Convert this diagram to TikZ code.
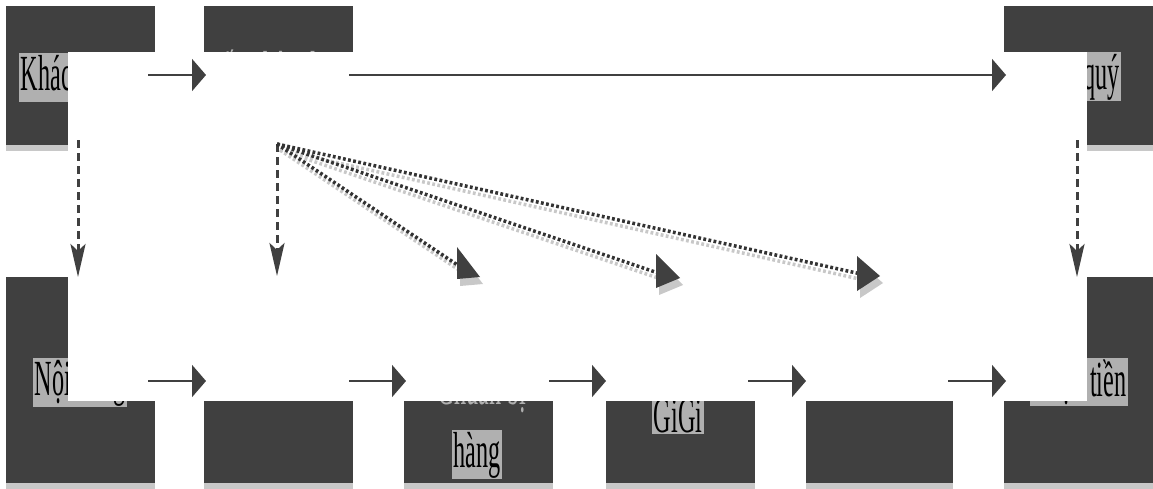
\documentclass[tikz,border=0pt]{standalone}
\usepackage{fontspec}
\setmainfont{Liberation Serif}
\usetikzlibrary{arrows.meta,calc}
\definecolor{boxc}{HTML}{404040}
\definecolor{shadc}{HTML}{C8C8C8}
\definecolor{haloc}{HTML}{B0B0B0}
\definecolor{dotc}{HTML}{333333}
\newcommand{\stretchtxt}[1]{\scalebox{1.1}[2.3]{\fontsize{22}{27}\selectfont #1}}
\begin{document}
\begin{tikzpicture}[x=1pt,y=-1pt,
  stepbox/.style={fill=boxc, draw=none, anchor=north west, inner sep=0pt, minimum width=149pt},
  toprow/.style={stepbox, minimum height=139pt},
  botrow/.style={stepbox, minimum height=206pt},
  txt/.style={fill=haloc, text=black, inner sep=1.5pt},
  bare/.style={text=haloc, inner sep=1.5pt},
  flow/.style={draw=boxc, line width=2pt, -{Triangle[length=14pt,width=32pt]}},
  drop/.style={draw=boxc, line width=3pt, dash pattern=on 8pt off 5pt, -{Stealth[length=33pt,width=15pt,inset=7pt]}},
  dotline/.style={draw=dotc, line width=3.5pt, dash pattern=on 2.8pt off 2.4pt},
  dotshadow/.style={draw=shadc, line width=3.5pt, dash pattern=on 2.8pt off 2.4pt}]
\useasboundingbox (0,0) rectangle (1153,488);
\fill[white] (0,0) rectangle (1153,488);
% boxes
\node[toprow] (t1) at (6,6) {};
\node[toprow] (t2) at (204,6) {};
\node[toprow] (t3) at (1004,6) {};
\node[botrow] (b1) at (6,277) {};
\node[botrow] (b2) at (204,277) {};
\node[botrow] (b3) at (404,277) {};
\node[botrow] (b4) at (606,277) {};
\node[botrow, minimum width=147pt] (b5) at (806,277) {};
\node[botrow] (b6) at (1004,277) {};
% shadows
\foreach \n in {t1,t2,t3,b1,b2,b3,b4,b5,b6}
  \fill[shadc] (\n.south west) rectangle ($(\n.south east)+(0,6)$);
% texts
\node[txt, anchor=base west] (k1) at (19,90) {\stretchtxt{Khách hàng}};
\node[bare, anchor=base] (k2) at (272,86) {\stretchtxt{\begin{tabular}[t]{@{}c@{}}Tiếp nhận đơn\\hàng\end{tabular}}};
\node[txt, anchor=base east] (k3) at (1121,89) {\stretchtxt{Hàng quý}};
\node[txt, anchor=base west] (k4) at (33,395) {\stretchtxt{Nội dung}};
\node[bare, anchor=base] (k5a) at (482,404) {\stretchtxt{Chuẩn bị}};
\node[txt, anchor=base] (k5b) at (477,467) {\stretchtxt{hàng}};
\node[txt, anchor=base] (k6) at (678,432) {\stretchtxt{GiGi}};
\node[txt, anchor=base east] (k7) at (1128,396) {\stretchtxt{Nhận tiền}};
% white cover
\fill[white] (68,52) rectangle (1087,401);
% connector end points
\coordinate (a1) at (148,75);  \coordinate (a2) at (206,75);
\coordinate (a3) at (349,75);  \coordinate (a4) at (1006,75);
\coordinate (c1) at (148,381); \coordinate (c2) at (206,381);
\coordinate (c3) at (349,381); \coordinate (c4) at (406,381);
\coordinate (c5) at (549,381); \coordinate (c6) at (606,381);
\coordinate (c7) at (748,381); \coordinate (c8) at (806,381);
\coordinate (c9) at (948,381); \coordinate (c10) at (1006,381);
\coordinate (v1) at (78,140);   \coordinate (v2) at (78,277);
\coordinate (v3) at (1077,140); \coordinate (v4) at (1077,277);
\coordinate (s) at (277,144);   \coordinate (v5) at (277,276);
\coordinate (e1) at (462,268);  \coordinate (T1) at (480,277);
\coordinate (e2) at (661,274);  \coordinate (T2) at (680,278);
\coordinate (e3) at (861,274);  \coordinate (T3) at (880,276);
% solid flow arrows
\draw[flow] (a1) -- (a2);
\draw[flow] (a3) -- (a4);
\draw[flow] (c1) -- (c2);
\draw[flow] (c3) -- (c4);
\draw[flow] (c5) -- (c6);
\draw[flow] (c7) -- (c8);
\draw[flow] (c9) -- (c10);
% dashed drops
\draw[drop] (v1) -- (v2);
\draw[drop] (v3) -- (v4);
\draw[drop] (s) -- (v5);
% dotted diagonal arrows with shadows
\foreach \e in {e1,e2,e3}
  \draw[dotshadow] ($(s)+(3,6)$) -- ($(\e)+(3,6)$);
\fill[shadc] ($(T1)+(3,7)$) -- ++(-23,-30) -- ++(0,32) -- cycle;
\fill[shadc] ($(T2)+(3,7)$) -- ++(-24,-24) -- ++(0,34) -- cycle;
\fill[shadc] ($(T3)+(3,7)$) -- ++(-23,-20) -- ++(0,35) -- cycle;
\foreach \e in {e1,e2,e3}
  \draw[dotline] (s) -- (\e);
\fill[boxc] (T1) -- ++(-23,-30) -- ++(0,32) -- cycle;
\fill[boxc] (T2) -- ++(-24,-24) -- ++(0,34) -- cycle;
\fill[boxc] (T3) -- ++(-23,-20) -- ++(0,35) -- cycle;
\end{tikzpicture}
\end{document}
